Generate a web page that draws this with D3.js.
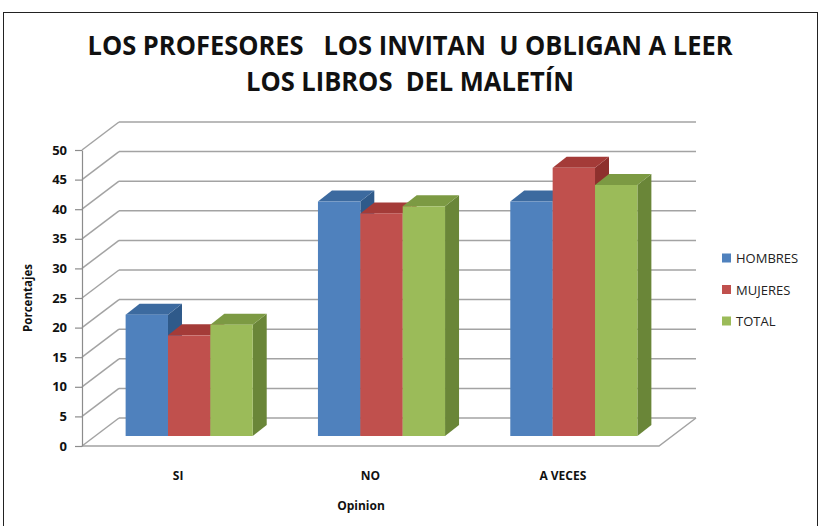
<!DOCTYPE html>
<html>
<head>
<meta charset="utf-8">
<script src="https://cdn.jsdelivr.net/npm/d3@7"></script>
<style>
  body { margin: 0; background: #fff; }
  text { font-family: "Open Sans", "Noto Sans", sans-serif; }
</style>
</head>
<body>
<div id="chart"></div>
<script>
// Data
const categories = ['SI', 'NO', 'A VECES']
const seriesNames = ['HOMBRES', 'MUJERES', 'TOTAL']
const hombres = [20.5, 39.6, 39.6]
const mujeres = [17.0, 37.6, 45.3]
const total = [18.8, 38.8, 42.4]
const yTicks = [0, 5, 10, 15, 20, 25, 30, 35, 40, 45, 50]
const titleLines = ['LOS PROFESORES   LOS INVITAN  U OBLIGAN A LEER', 'LOS LIBROS  DEL MALETÍN']

const seriesValues = [hombres, mujeres, total]
const colors = {
  front: ['#4F81BD', '#C0504D', '#9BBB59'],
  top: ['#3C6A9F', '#A43B38', '#7C9A43'],
  side: ['#2F5A8A', '#8E302D', '#6A8638']
}

// Dimensions
const dimensions = {
  width: 822,
  height: 526,
  plot: { left: 82, right: 659, bottom: 446, top: 150 },
  depth: { dx: 37, dy: -28 },
  bar: { dx0: 11, dy0: -10, dx: 14, dy: -11 }
}

const svg = d3.select('#chart')
  .append('svg')
  .attr('width', dimensions.width)
  .attr('height', dimensions.height)

// frame
svg.append('rect')
  .attr('x', 3.5).attr('y', 12.5)
  .attr('width', 814).attr('height', 530)
  .attr('fill', 'none')
  .attr('stroke', '#222')
  .attr('stroke-width', 1)

// Scales
const p = dimensions.plot
const dep = dimensions.depth
const yScale = d3.scaleLinear().domain([0, 50]).range([p.bottom, p.top])
const xScale = d3.scaleBand().domain(categories).range([p.left, p.right])
const xInner = d3.scaleBand().domain(seriesNames)
  .range([0, xScale.bandwidth()])
  .paddingInner(0)
  .paddingOuter(0.77)

const gridColor = '#a3a3a3'
const walls = svg.append('g')
  .attr('fill', 'none')
  .attr('stroke', gridColor)
  .attr('stroke-width', 1.5)

// back wall gridlines
walls.selectAll('line.grid')
  .data(yTicks)
  .join('line')
  .attr('class', 'grid')
  .attr('x1', p.left + dep.dx)
  .attr('x2', p.right + dep.dx)
  .attr('y1', d => yScale(d) + dep.dy)
  .attr('y2', d => yScale(d) + dep.dy)

// side wall diagonals
walls.selectAll('line.diag')
  .data(yTicks)
  .join('line')
  .attr('class', 'diag')
  .attr('x1', p.left)
  .attr('x2', p.left + dep.dx)
  .attr('y1', d => yScale(d))
  .attr('y2', d => yScale(d) + dep.dy)

// floor front edge and right edge
walls.append('path')
  .attr('d', `M${p.left},${yScale(0)} L${p.right},${yScale(0)} L${p.right + dep.dx},${yScale(0) + dep.dy}`)

// Y axis
const yAxis = d3.axisLeft(yScale)
  .tickValues(yTicks)
  .tickSize(7)
  .tickSizeOuter(0)
  .tickPadding(8)

const yAxisGroup = svg.append('g')
  .attr('transform', `translate(${p.left},0)`)
  .call(yAxis)
yAxisGroup.selectAll('path, line').attr('stroke', '#8c8c8c').attr('stroke-width', 1.2)
yAxisGroup.selectAll('text')
  .attr('font-family', 'Open Sans')
  .attr('font-size', '13px')
  .attr('font-weight', 'bold')
  .attr('fill', '#111')

svg.append('text')
  .attr('transform', 'translate(32,298) rotate(-90)')
  .attr('text-anchor', 'middle')
  .attr('font-size', '11.5px')
  .attr('font-weight', 'bold')
  .attr('fill', '#111')
  .text('Porcentajes')

// X axis labels
const xAxis = d3.axisBottom(xScale).tickSize(0).tickPadding(0)
const xAxisGroup = svg.append('g')
  .attr('transform', `translate(0,${p.bottom + 25})`)
  .call(xAxis)
xAxisGroup.select('.domain').remove()
xAxisGroup.selectAll('text')
  .attr('font-family', 'Open Sans')
  .attr('font-size', '12px')
  .attr('font-weight', 'bold')
  .attr('fill', '#111')

svg.append('text')
  .attr('x', 361)
  .attr('y', 510)
  .attr('text-anchor', 'middle')
  .attr('font-size', '12px')
  .attr('font-weight', 'bold')
  .attr('fill', '#111')
  .text('Opinion')

// Bars (3D)
const b = dimensions.bar
const barData = []
categories.forEach((c, i) => {
  seriesNames.forEach((s, j) => {
    barData.push({ cat: c, series: s, si: j, value: seriesValues[j][i] })
  })
})

const bars = svg.append('g').selectAll('g')
  .data(barData)
  .join('g')

const bx = d => xScale(d.cat) + xInner(d.series) + b.dx0
const by0 = yScale(0) + b.dy0
const byTop = d => yScale(d.value) + b.dy0
const bw = xInner.bandwidth()

// side face
bars.append('path')
  .attr('fill', d => colors.side[d.si])
  .attr('d', d => {
    const x = bx(d) + bw, yt = byTop(d)
    return `M${x},${by0} L${x + b.dx},${by0 + b.dy} L${x + b.dx},${yt + b.dy} L${x},${yt} Z`
  })
// top face
bars.append('path')
  .attr('fill', d => colors.top[d.si])
  .attr('d', d => {
    const x = bx(d), yt = byTop(d)
    return `M${x},${yt} L${x + bw},${yt} L${x + bw + b.dx},${yt + b.dy} L${x + b.dx},${yt + b.dy} Z`
  })
// front face
bars.append('rect')
  .attr('fill', d => colors.front[d.si])
  .attr('x', bx)
  .attr('y', byTop)
  .attr('width', bw)
  .attr('height', d => by0 - byTop(d))

// Legend
const legend = svg.append('g')
  .selectAll('g')
  .data(seriesNames)
  .join('g')
  .attr('transform', (d, i) => `translate(722,${258 + i * 31.5})`)
legend.append('rect')
  .attr('x', 0).attr('y', -4.5)
  .attr('width', 9).attr('height', 9)
  .attr('fill', (d, i) => colors.front[i])
legend.append('text')
  .attr('x', 14)
  .attr('y', 5)
  .attr('font-size', '13px')
  .attr('fill', '#222')
  .text(d => d)

// Title
svg.selectAll('text.title')
  .data(titleLines)
  .join('text')
  .attr('class', 'title')
  .attr('x', 410)
  .attr('y', (d, i) => 55 + i * 36)
  .attr('text-anchor', 'middle')
  .attr('font-size', '26px')
  .attr('font-weight', 'bold')
  .attr('fill', '#111')
  .style('white-space', 'pre')
  .attr('textLength', (d, i) => i === 0 ? 645 : 328)
  .attr('lengthAdjust', 'spacingAndGlyphs')
  .text(d => d)
</script>
</body>
</html>
